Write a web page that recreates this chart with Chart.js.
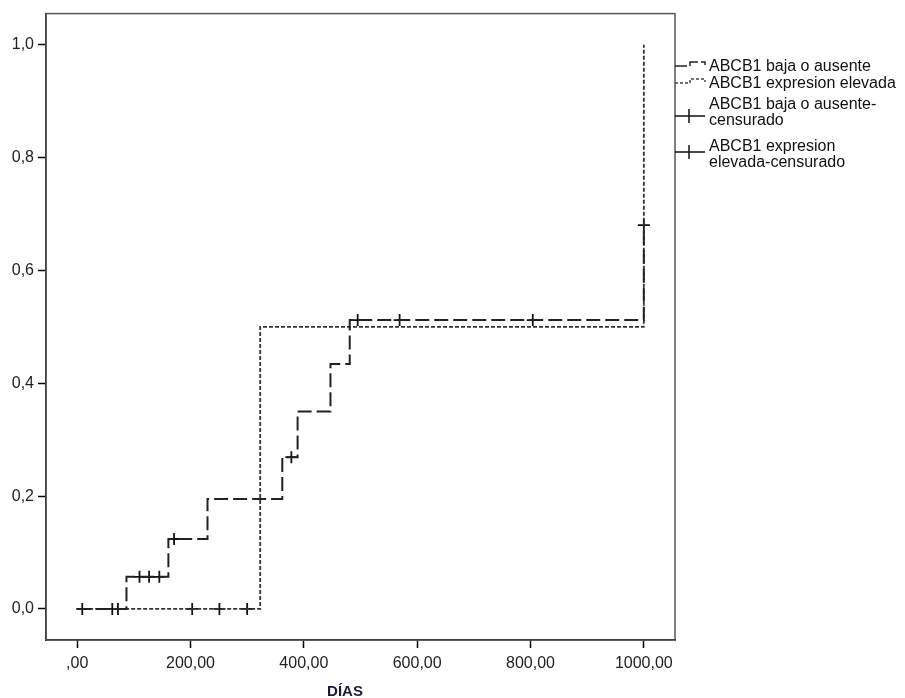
<!DOCTYPE html>
<html>
<head>
<meta charset="utf-8">
<script src="https://cdn.jsdelivr.net/npm/chart.js@4.4.1/dist/chart.umd.min.js"></script>
<style>
  body { margin: 0; background: #fff; }
  #wrap { position: relative; width: 905px; height: 698px; }
  #chart { position: absolute; left: 0; top: 0; }
  .lg { position: absolute; left: 709px; font: 16px "Liberation Sans", Arial, sans-serif; color: #111; line-height: 16px; white-space: nowrap; }
  #xtitle { position: absolute; top: 682px; left: 345px; transform: translateX(-50%); font: bold 15px "Liberation Sans", Arial, sans-serif; color: #1c1c3a; }
  svg { position: absolute; left: 0; top: 0; }
</style>
</head>
<body>
<div id="wrap">
  <canvas id="chart" width="905" height="698"></canvas>
  <svg width="905" height="698">
    <path d="M675,66 H690 V62 H705 V65" fill="none" stroke="#222" stroke-width="1.5" stroke-dasharray="12,3"/>
    <path d="M675,83 H690 V79 H705 V82" fill="none" stroke="#444" stroke-width="1.5" stroke-dasharray="3,2"/>
    <path d="M675,116 H705 M689,109 V123" fill="none" stroke="#111" stroke-width="1.5"/>
    <path d="M675,152 H705 M689,145 V159" fill="none" stroke="#111" stroke-width="1.5"/>
  </svg>
  <div class="lg" style="top:58px">ABCB1 baja o ausente</div>
  <div class="lg" style="top:75px">ABCB1 expresion elevada</div>
  <div class="lg" style="top:96px">ABCB1 baja o ausente-<br>censurado</div>
  <div class="lg" style="top:138px">ABCB1 expresion<br>elevada-censurado</div>
  <div id="xtitle">DÍAS</div>
</div>
<script>
/* =========================
   DATA
========================= */
// ABCB1 baja o ausente (curva escalonada)
const lowDays = [0, 87, 161, 230, 362, 389, 447, 481, 1000];
const lowSurv = [0, 0.057, 0.124, 0.195, 0.269, 0.350, 0.434, 0.512, 0.68];

// ABCB1 expresion elevada
const highDays = [0, 323, 1000];
const highSurv = [0, 0.5, 1.0];

// censurados
const lowCensDays = [9, 62, 72, 110, 127, 145, 171, 378, 495, 569, 804, 1000];
const lowCensSurv = [0, 0, 0, 0.057, 0.057, 0.057, 0.124, 0.269, 0.512, 0.512, 0.512, 0.68];
const highCensDays = [203, 251, 300];
const highCensSurv = [0, 0, 0];

const xTicks = [0, 200, 400, 600, 800, 1000];
const yTicks = [0, 0.2, 0.4, 0.6, 0.8, 1.0];

const toPts = (xs, ys) => xs.map((x, i) => ({ x: x, y: ys[i] }));

/* =========================
   PLOT BOX
========================= */
const boxPlugin = {
  id: "box",
  afterDraw(chart) {
    const a = chart.chartArea;
    const ctx = chart.ctx;
    ctx.save();
    ctx.strokeStyle = "#555";
    ctx.lineWidth = 1.5;
    ctx.strokeRect(a.left, a.top, a.right - a.left, a.bottom - a.top);
    ctx.restore();
  }
};

const tickFont = { family: "'Liberation Sans', Arial, sans-serif", size: 16 };

new Chart(document.getElementById("chart"), {
  type: "scatter",
  data: {
    datasets: [
      {
        data: toPts(lowDays, lowSurv),
        showLine: true,
        stepped: true,
        borderColor: "#222",
        borderWidth: 2,
        borderDash: [14, 5],
        pointRadius: 0
      },
      {
        data: toPts(highDays, highSurv),
        showLine: true,
        stepped: true,
        borderColor: "#333",
        borderWidth: 1.8,
        borderDash: [4, 2],
        pointRadius: 0
      },
      {
        data: toPts(lowCensDays, lowCensSurv),
        pointStyle: "cross",
        pointRadius: 6,
        borderColor: "#111",
        borderWidth: 1.8
      },
      {
        data: toPts(highCensDays, highCensSurv),
        pointStyle: "cross",
        pointRadius: 6,
        borderColor: "#111",
        borderWidth: 1.8
      }
    ]
  },
  options: {
    responsive: false,
    animation: false,
    devicePixelRatio: 1,
    layout: { padding: { top: 13, right: 230, left: 0, bottom: 0 } },
    plugins: { legend: { display: false }, tooltip: { enabled: false } },
    scales: {
      x: {
        type: "linear",
        min: -55,
        max: 1055,
        afterFit: s => { s.height = 58; },
        afterBuildTicks: s => { s.ticks = xTicks.map(v => ({ value: v })); },
        grid: { drawOnChartArea: false, tickLength: 8, color: "#000", tickWidth: 1.5 },
        border: { color: "#000", width: 1.5 },
        ticks: {
          font: tickFont,
          color: "#222",
          padding: 6,
          maxRotation: 0,
          callback: v => v === 0 ? ",00" : v + ",00"
        }
      },
      y: {
        min: -0.055,
        max: 1.055,
        afterFit: s => { s.width = 46; },
        afterBuildTicks: s => { s.ticks = yTicks.map(v => ({ value: v })); },
        grid: { drawOnChartArea: false, tickLength: 8, color: "#000", tickWidth: 1.5 },
        border: { color: "#000", width: 1.5 },
        ticks: {
          font: tickFont,
          color: "#222",
          padding: 4,
          callback: v => v.toFixed(1).replace(".", ",")
        }
      }
    }
  },
  plugins: [boxPlugin]
});
</script>
</body>
</html>
